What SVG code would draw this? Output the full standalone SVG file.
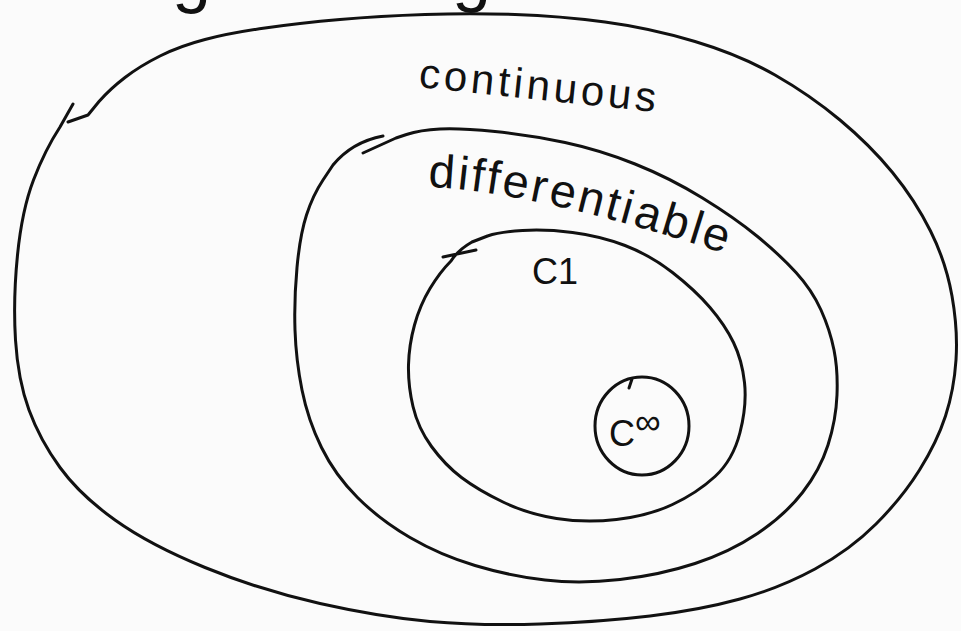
<svg xmlns="http://www.w3.org/2000/svg" width="961" height="631" viewBox="0 0 961 631">
<defs>
<style>
.ink{fill:none;stroke:#111;stroke-width:3;stroke-linecap:round;stroke-linejoin:round}
.lbl{font-family:"Liberation Sans","DejaVu Sans",sans-serif;fill:#111}
</style>
<path id="diffPath" d="M428,187 Q540,192 738,258"/>
</defs>
<rect width="961" height="631" fill="#fbfbfb"/>
<g id="title-fragment">
<text class="lbl" x="172" y="-1" font-size="70">g</text>
<text class="lbl" x="452" y="-2" font-size="70">g</text>
</g>
<g id="node-continuous">
<path class="ink" d="M73,104 L60,127 Q45,150 33.5,180 Q22,210 17.5,255 Q13,300 15.5,340 Q18,380 29,410 Q40,440 60,467.5 Q80,495 115,520 Q150,545 205,567.5 Q260,590 320,603.5 Q380,617 430,621.5 Q480,626 540,624 Q600,622 650,616 Q700,610 740,599 Q780,588 815,569 Q850,550 876,524 Q902,498 919.5,470 Q937,442 945.5,416 Q954,390 956,360 Q958,330 952,296 Q946,262 930.5,231 Q915,200 892.5,172.5 Q870,145 840,120 Q810,95 775,75 Q740,55 695,41.5 Q650,28 605,22 Q560,16 515,14.5 Q470,13 425,14.5 Q380,16 340,19.5 Q300,23 265,28 Q230,33 205,39.5 Q180,46 160,56 Q140,66 125,77.5 Q110,89 99,101.5 L88,115 L68,122"/>
<text class="lbl" x="418" y="87" font-size="42" textLength="238" lengthAdjust="spacing" transform="rotate(6 418 87)">continuous</text>
</g>
<g id="node-differentiable">
<path class="ink" d="M383,136 Q352,142 333,165 L323,180 Q313,195 306.5,215 Q300,235 297,267.5 Q294,300 295,330 Q296,360 302,390 Q308,420 321.5,447.5 Q335,475 357.5,497.5 Q380,520 410,537.5 Q440,555 475,565.5 Q510,576 545,580 Q580,584 620,579.5 Q660,575 695,563.5 Q730,552 757.5,533.5 Q785,515 802.5,492.5 Q820,470 828,445 Q836,420 837,395 Q838,370 834,350 Q830,330 821,310 Q812,290 796,272.5 Q780,255 757.5,236.5 Q735,218 702.5,198 Q670,178 635,164 Q600,150 565,142.5 Q530,135 495,131.5 Q460,128 440,129 Q420,130 406.5,134.5 L396,138 L363,153"/>
<text class="lbl" font-size="47"><textPath href="#diffPath" textLength="305" lengthAdjust="spacing">differentiable</textPath></text>
</g>
<g id="node-c1">
<path class="ink" d="M472,242 Q458,250 451,261 Q440,272 430,288.5 Q420,305 414.5,325 Q409,345 408.5,365 Q408,385 413,406.5 Q418,428 431.5,446.5 Q445,465 461.5,477.5 Q478,490 503,502 Q528,514 556.5,518.5 Q585,523 616.5,519.5 Q648,516 672.5,504.5 Q697,493 715,476.5 Q733,460 740,432.5 Q747,405 744.5,382.5 Q742,360 733.5,342.5 Q725,325 710,307.5 Q695,290 672.5,272.5 Q650,255 625,245.5 Q600,236 572.5,232.5 Q545,229 522.5,230.5 Q500,232 487.5,236 L472,242 M443,257 L476,250"/>
<text class="lbl" x="532" y="284" font-size="36">C1</text>
</g>
<g id="node-cinf">
<ellipse class="ink" cx="642" cy="426" rx="47" ry="49"/>
<path class="ink" d="M632,379 L629,388"/>
<text class="lbl" x="609" y="446" font-size="36">C<tspan dy="-12" font-size="36">∞</tspan></text>
</g>
<g id="connectors"/>
</svg>
